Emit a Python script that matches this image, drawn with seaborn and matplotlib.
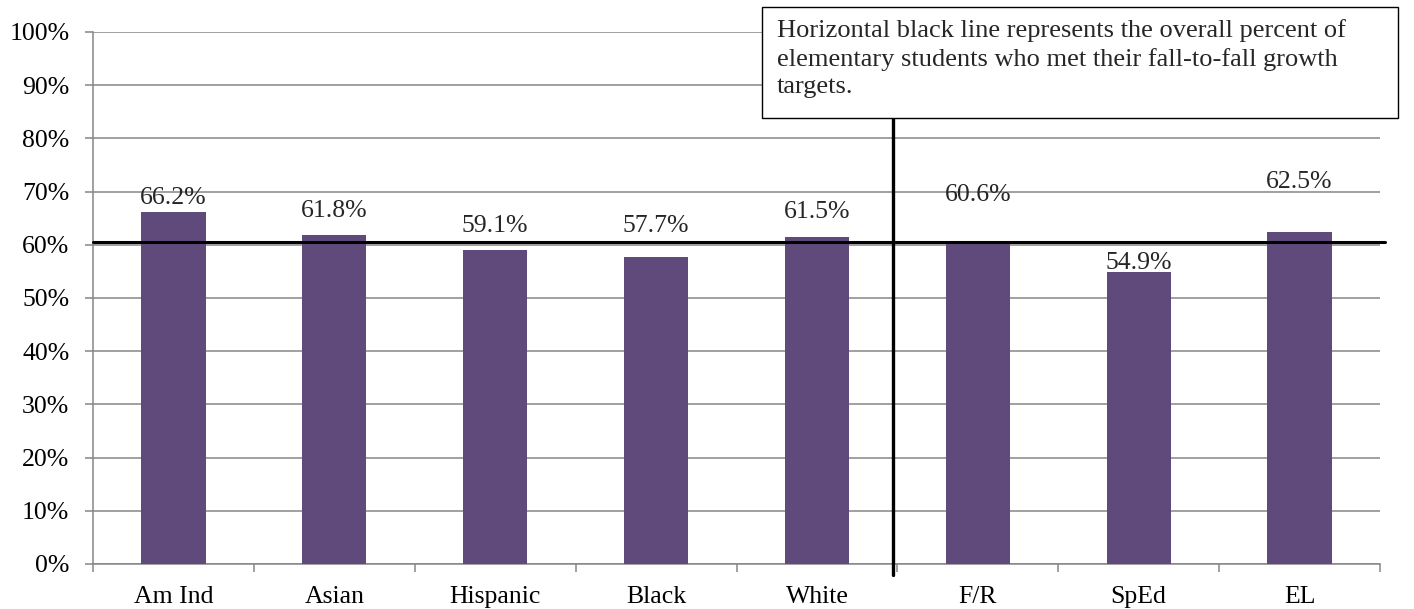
import matplotlib
matplotlib.use("Agg")
import matplotlib.pyplot as plt
import seaborn as sns
import pandas as pd
from matplotlib.patches import Rectangle
from matplotlib.ticker import FixedLocator, PercentFormatter

categories = ["Am Ind", "Asian", "Hispanic", "Black", "White", "F/R", "SpEd", "EL"]
values = [66.2, 61.8, 59.1, 57.7, 61.5, 60.6, 54.9, 62.5]
value_labels = ["66.2%", "61.8%", "59.1%", "57.7%", "61.5%", "60.6%", "54.9%", "62.5%"]
label_y = [68.8, 66.4, 63.5, 63.5, 66.2, 69.4, 56.6, 71.8]
overall = 60.6
y_ticks = [0, 10, 20, 30, 40, 50, 60, 70, 80, 90, 100]
note = ("Horizontal black line represents the overall percent of\n"
        "elementary students who met their fall-to-fall growth\n"
        "targets.")

sns.set_theme(style="white")
plt.rcParams["font.family"] = ["Liberation Serif", "DejaVu Serif"]

FS = 18.5
W, H = 1414, 609
fig = plt.figure(figsize=(W / 100, H / 100), dpi=100)
ax = fig.add_axes([93 / W, (H - 564) / H, (1380 - 93) / W, (564 - 32) / H])

df = pd.DataFrame({"cat": categories, "val": values})
sns.barplot(data=df, x="cat", y="val", color="#604A7B", saturation=1,
            width=0.4, linewidth=0, ax=ax, zorder=3)

ax.set_xlim(-0.5, len(categories) - 0.5)
ax.set_ylim(0, 100)
ax.yaxis.set_major_locator(FixedLocator(y_ticks))
ax.yaxis.set_major_formatter(PercentFormatter(decimals=0))
ax.grid(axis="y", color="#868686", linewidth=1.1, zorder=0)
ax.set_axisbelow(True)
for s in ["top", "right"]:
    ax.spines[s].set_visible(False)
for s in ["left", "bottom"]:
    ax.spines[s].set_color("#868686")
    ax.spines[s].set_linewidth(1.1)
ax.set_xlabel("")
ax.set_ylabel("")
ax.xaxis.set_minor_locator(FixedLocator([i - 0.5 for i in range(len(categories) + 1)]))
ax.tick_params(axis="x", which="major", length=0, pad=16, labelsize=FS, colors="black")
ax.tick_params(axis="x", which="minor", length=6, width=1.1, color="#868686", bottom=True)
ax.tick_params(axis="y", which="major", length=6, width=1.1, color="#868686", left=True,
               pad=11, labelsize=FS, labelcolor="black")

for i, (t, yl) in enumerate(zip(value_labels, label_y)):
    ax.text(i, yl, t, ha="center", va="center", fontsize=FS, zorder=6)

# overall line and divider
ax.plot([-0.5, len(categories) - 0.47], [overall, overall], color="black", lw=2.2,
        zorder=5, clip_on=False)
ax.plot([4.47, 4.47], [-2, 100], color="black", lw=2.4, zorder=5, clip_on=False)

# note box
rect = Rectangle((762 / W, (H - 118) / H), (1398 - 762) / W, (118 - 7) / H,
                 transform=fig.transFigure, facecolor="white", edgecolor="black",
                 lw=1.0, zorder=10)
fig.patches.append(rect)
fig.text(777 / W, (H - 19) / H, note, ha="left", va="top", fontsize=19,
         linespacing=1.32, zorder=11)

fig.savefig("out.png", dpi=100)
